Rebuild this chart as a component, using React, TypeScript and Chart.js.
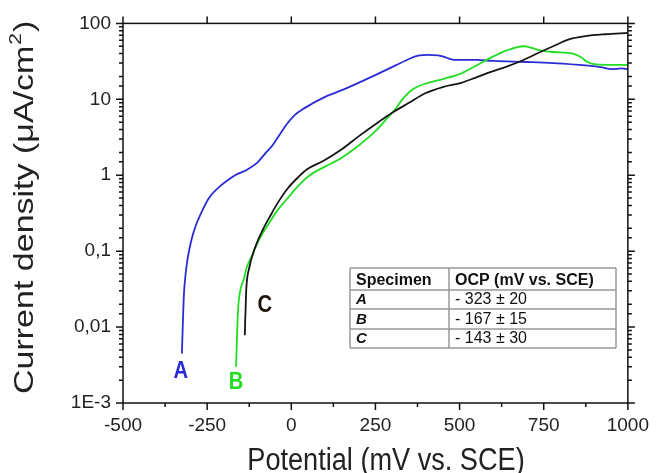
import React, { useEffect, useRef } from "react";
import { Chart, registerables } from "chart.js";

Chart.register(...registerables);

// ---------- data ----------
const aX = [-325, -322, -319, -314, -309, -303, -295, -285, -275, -246, -208, -187, -167, -129, -100, -79, -55, -41, -12, 10, 38, 105, 150, 193, 251, 310, 350, 377, 405, 436, 460, 485, 550, 602, 700, 778, 874, 920, 953, 980, 1000];
const aY = [0.0045, 0.012, 0.027, 0.05, 0.075, 0.105, 0.15, 0.21, 0.27, 0.49, 0.74, 0.87, 1.0, 1.2, 1.48, 1.9, 2.5, 3.1, 4.8, 6.2, 7.6, 11, 13.2, 16, 21, 28, 34, 37.5, 38.5, 38, 35.5, 33, 33, 32, 31, 30, 28, 26.5, 25, 25.5, 25];

const bX = [-164, -162, -160, -157, -153, -149, -142, -133, -120, -100, -70, -40, -12, 20, 55, 100, 150, 202, 250, 281, 310, 330, 360, 406, 450, 505, 544, 602, 640, 690, 720, 740, 778, 836, 860, 880, 900, 940, 1000];
const bY = [0.003, 0.006, 0.011, 0.02, 0.028, 0.034, 0.041, 0.06, 0.081, 0.13, 0.22, 0.35, 0.49, 0.72, 1.0, 1.3, 1.7, 2.5, 3.8, 5.4, 7.5, 10, 13.5, 16.5, 18.5, 22, 27, 37, 44, 50, 47, 44, 42, 40, 36, 31, 29, 28.5, 28.5];

const cX = [-138, -137, -136, -135, -134, -125, -108, -85, -61, -35, -12, 18, 47, 96, 150, 202, 250, 301, 350, 398, 450, 505, 550, 593, 640, 690, 740, 778, 827, 874, 933, 1000];
const cY = [0.0078, 0.012, 0.016, 0.022, 0.03, 0.06, 0.11, 0.19, 0.3, 0.47, 0.66, 0.92, 1.2, 1.55, 2.2, 3.3, 4.7, 6.7, 9, 12, 14.5, 16.5, 19.5, 23, 27, 33, 42, 50, 62, 68, 72, 75];

const xTickValues = [-500, -250, 0, 250, 500, 750, 1000];
const xMinorValues = [-375, -125, 125, 375, 625, 875];
const yTickValues = [0.001, 0.01, 0.1, 1, 10, 100];
const yTickLabels = ["1E-3", "0,01", "0,1", "1", "10", "100"];

const seriesNames = ["A", "B", "C"];
const seriesColors = ["#2b2bd4", "#22dd22", "#151515"];
const tableHeader = ["Specimen", "OCP (mV vs. SCE)"];
const ocpValues = ["- 323 ± 20", "- 167 ± 15", "- 143 ± 30"];

const xTitle = "Potential (mV vs. SCE)";
const yTitleMain = "Current density (μA/cm";
const yTitleSup = "2";
const yTitleEnd = ")";

const FONT = "'Liberation Sans', Arial, sans-serif";

function toPoints(xs: number[], ys: number[]) {
  return xs.map((x, i) => ({ x, y: ys[i] }));
}

const decorPlugin = {
  id: "decor",
  afterDraw(chart: any) {
    const { ctx, chartArea: ca, scales } = chart;
    const xs = scales.x;
    const ys = scales.y;
    ctx.save();
    // frame
    ctx.strokeStyle = "#111";
    ctx.lineWidth = 1.5;
    ctx.strokeRect(ca.left, ca.top, ca.right - ca.left, ca.bottom - ca.top);
    ctx.beginPath();
    xTickValues.forEach((v) => {
      const px = xs.getPixelForValue(v);
      ctx.moveTo(px, ca.bottom);
      ctx.lineTo(px, ca.bottom + 7);
      ctx.moveTo(px, ca.top);
      ctx.lineTo(px, ca.top - 7);
    });
    xMinorValues.forEach((v) => {
      const px = xs.getPixelForValue(v);
      ctx.moveTo(px, ca.bottom);
      ctx.lineTo(px, ca.bottom + 4);
    });
    ys.ticks.forEach((t: any) => {
      const v = t.value;
      if (v < 0.001 * 0.999 || v > 100 * 1.001) return;
      const lg = Math.log10(v);
      const major = Math.abs(lg - Math.round(lg)) < 1e-6;
      const len = major ? 7 : 4;
      const py = ys.getPixelForValue(v);
      ctx.moveTo(ca.left - len, py);
      ctx.lineTo(ca.left, py);
      ctx.moveTo(ca.right, py);
      ctx.lineTo(ca.right + len, py);
    });
    ctx.stroke();

    // axis titles
    ctx.fillStyle = "#222";
    ctx.font = `31px ${FONT}`;
    ctx.textAlign = "center";
    ctx.textBaseline = "alphabetic";
    ctx.save();
    ctx.translate(386, 470);
    ctx.scale(0.875, 1);
    ctx.fillText(xTitle, 0, 0);
    ctx.restore();

    ctx.save();
    ctx.translate(33, 394);
    ctx.scale(0.8, 1);
    ctx.rotate(-Math.PI / 2);
    ctx.textAlign = "left";
    ctx.font = `34px ${FONT}`;
    const w1 = ctx.measureText(yTitleMain).width;
    ctx.fillText(yTitleMain, 0, 0);
    ctx.font = `21px ${FONT}`;
    const w2 = ctx.measureText(yTitleSup).width;
    ctx.fillText(yTitleSup, w1 + 1, -15);
    ctx.font = `34px ${FONT}`;
    ctx.fillText(yTitleEnd, w1 + w2 + 2, 0);
    ctx.restore();

    // series letters
    const letterPos = [
      [aX[0], 372],
      [bX[0], 383],
      [-79, 306],
    ];
    ctx.font = `bold 23px ${FONT}`;
    ctx.textAlign = "center";
    ctx.textBaseline = "middle";
    seriesNames.forEach((n, i) => {
      ctx.save();
      const px = xs.getPixelForValue(letterPos[i][0]) + (i === 0 ? -1 : 0);
      ctx.translate(px, letterPos[i][1]);
      ctx.scale(0.88, 1);
      ctx.fillStyle = i === 2 ? "#1a1205" : seriesColors[i];
      ctx.fillText(n, 0, 0);
      ctx.restore();
    });

    // table
    const tl = 350, tr = 616, tt = 268, colX = 449;
    const rowY = [268, 290, 309, 329, 348];
    ctx.strokeStyle = "#999";
    ctx.lineWidth = 1.5;
    ctx.fillStyle = "#fff";
    ctx.fillRect(tl, tt, tr - tl, rowY[4] - tt);
    ctx.beginPath();
    rowY.forEach((y) => {
      ctx.moveTo(tl, y);
      ctx.lineTo(tr, y);
    });
    ctx.moveTo(tl, tt);
    ctx.lineTo(tl, rowY[4]);
    ctx.moveTo(tr, tt);
    ctx.lineTo(tr, rowY[4]);
    ctx.moveTo(colX, tt);
    ctx.lineTo(colX, rowY[4]);
    ctx.stroke();
    ctx.fillStyle = "#111";
    ctx.textAlign = "left";
    ctx.textBaseline = "alphabetic";
    ctx.font = `bold 16px ${FONT}`;
    ctx.fillText(tableHeader[0], 356, 285);
    ctx.fillText(tableHeader[1], 455, 285);
    const baselines = [304, 324, 343];
    seriesNames.forEach((n, i) => {
      ctx.font = `italic bold 15px ${FONT}`;
      ctx.fillText(n, 356, baselines[i]);
      ctx.font = `16px ${FONT}`;
      ctx.fillText(ocpValues[i], 455, baselines[i]);
    });
    ctx.restore();
  },
};

export default function App() {
  const ref = useRef<HTMLCanvasElement | null>(null);
  useEffect(() => {
    if (!ref.current) return;
    const mk = (xs: number[], ys: number[], i: number) => ({
      label: seriesNames[i],
      data: toPoints(xs, ys),
      showLine: true,
      borderColor: seriesColors[i],
      backgroundColor: seriesColors[i],
      borderWidth: 1.8,
      pointRadius: 0,
      cubicInterpolationMode: "monotone",
    });
    const chart = new Chart(ref.current, {
      type: "scatter",
      data: {
        datasets: [mk(cX, cY, 2), mk(bX, bY, 1), mk(aX, aY, 0)] as any,
      },
      options: {
        animation: false,
        responsive: false,
        layout: { padding: { left: 0, top: 20, right: 24, bottom: 0 } },
        plugins: { legend: { display: false }, tooltip: { enabled: false } },
        scales: {
          x: {
            type: "linear",
            min: -500,
            max: 1000,
            afterBuildTicks: (s: any) => {
              s.ticks = xTickValues.map((v) => ({ value: v }));
            },
            afterFit: (s: any) => {
              s.height = 70;
            },
            ticks: {
              padding: 11,
              color: "#222",
              font: { family: FONT, size: 19 },
              maxRotation: 0,
              autoSkip: false,
              callback: (v: any) => String(v),
            },
            grid: { display: false, drawTicks: false },
            border: { display: false },
          },
          y: {
            type: "logarithmic",
            min: 0.001,
            max: 100,
            afterFit: (s: any) => {
              s.width = 123;
            },
            ticks: {
              padding: 12,
              color: "#222",
              autoSkip: false,
              font: { family: FONT, size: 19 },
              callback: (v: any) => {
                const idx = yTickValues.findIndex((t) => Math.abs(t - Number(v)) / t < 1e-6);
                return idx >= 0 ? yTickLabels[idx] : "";
              },
            },
            grid: { display: false, drawTicks: false },
            border: { display: false },
          },
        },
      },
      plugins: [decorPlugin],
    });
    return () => chart.destroy();
  }, []);
  return (
    <div style={{ position: "fixed", left: 0, top: 0, width: 660, height: 473, background: "#fff" }}>
      <canvas ref={ref} width={660} height={473} style={{ display: "block" }} />
    </div>
  );
}
